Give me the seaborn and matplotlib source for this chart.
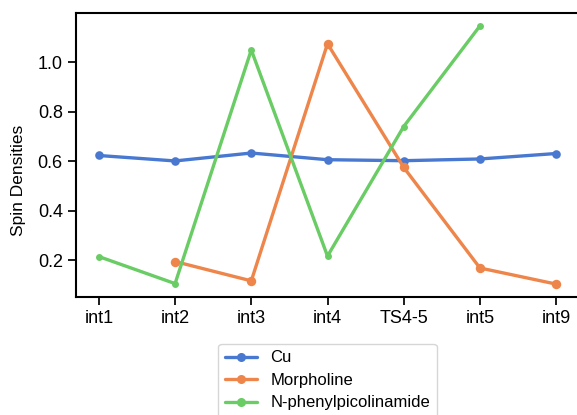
import matplotlib
matplotlib.use("Agg")
import matplotlib.pyplot as plt
import seaborn as sns
import numpy as np
import pandas as pd

categories = ["int1", "int2", "int3", "int4", "TS4-5", "int5", "int9"]
cu = [0.623, 0.601, 0.633, 0.606, 0.602, 0.609, 0.631]
morpholine = [np.nan, 0.195, 0.117, 1.074, 0.575, 0.169, 0.104]
npicol = [0.215, 0.106, 1.049, 0.217, 0.740, 1.146, np.nan]

series = [("Cu", cu, 6.2), ("Morpholine", morpholine, 6.8), ("N-phenylpicolinamide", npicol, 5.0)]

sns.set_theme(style="ticks", context="notebook")
plt.rcParams.update({
    "font.family": ["Liberation Sans", "DejaVu Sans"],
    "text.color": "black", "axes.labelcolor": "black", "axes.edgecolor": "black",
    "xtick.color": "black", "ytick.color": "black",
})
pal = sns.color_palette("muted")

fig = plt.figure(figsize=(5.77, 4.15), dpi=100)
ax = fig.add_axes([76/577, (415-297)/415, (579-76)/577, (297-13)/415])

for i, (name, vals, ms) in enumerate(series):
    df = pd.DataFrame({"x": categories, "y": vals})
    sns.lineplot(data=df, x="x", y="y", ax=ax, color=pal[i], marker="o",
                 markersize=ms, markeredgewidth=0, linewidth=2.4, label=name)

ax.set_xlabel("")
ax.set_ylabel("Spin Densities", fontsize=12.5)
ax.yaxis.set_label_coords(-0.1, 0.41)
ax.tick_params(labelsize=13)
ax.set_yticks([0.2, 0.4, 0.6, 0.8, 1.0])
for s in ax.spines.values():
    s.set_linewidth(1.5)
leg = ax.legend(loc="upper center", bbox_to_anchor=(0.5, -0.135), fontsize=12,
                frameon=True, labelspacing=0.45, handlelength=1.9)
for t in leg.get_texts():
    t.set_color("black")
for h in leg.legend_handles:
    h.set_markersize(6.5)

fig.savefig("out.png", dpi=100)
